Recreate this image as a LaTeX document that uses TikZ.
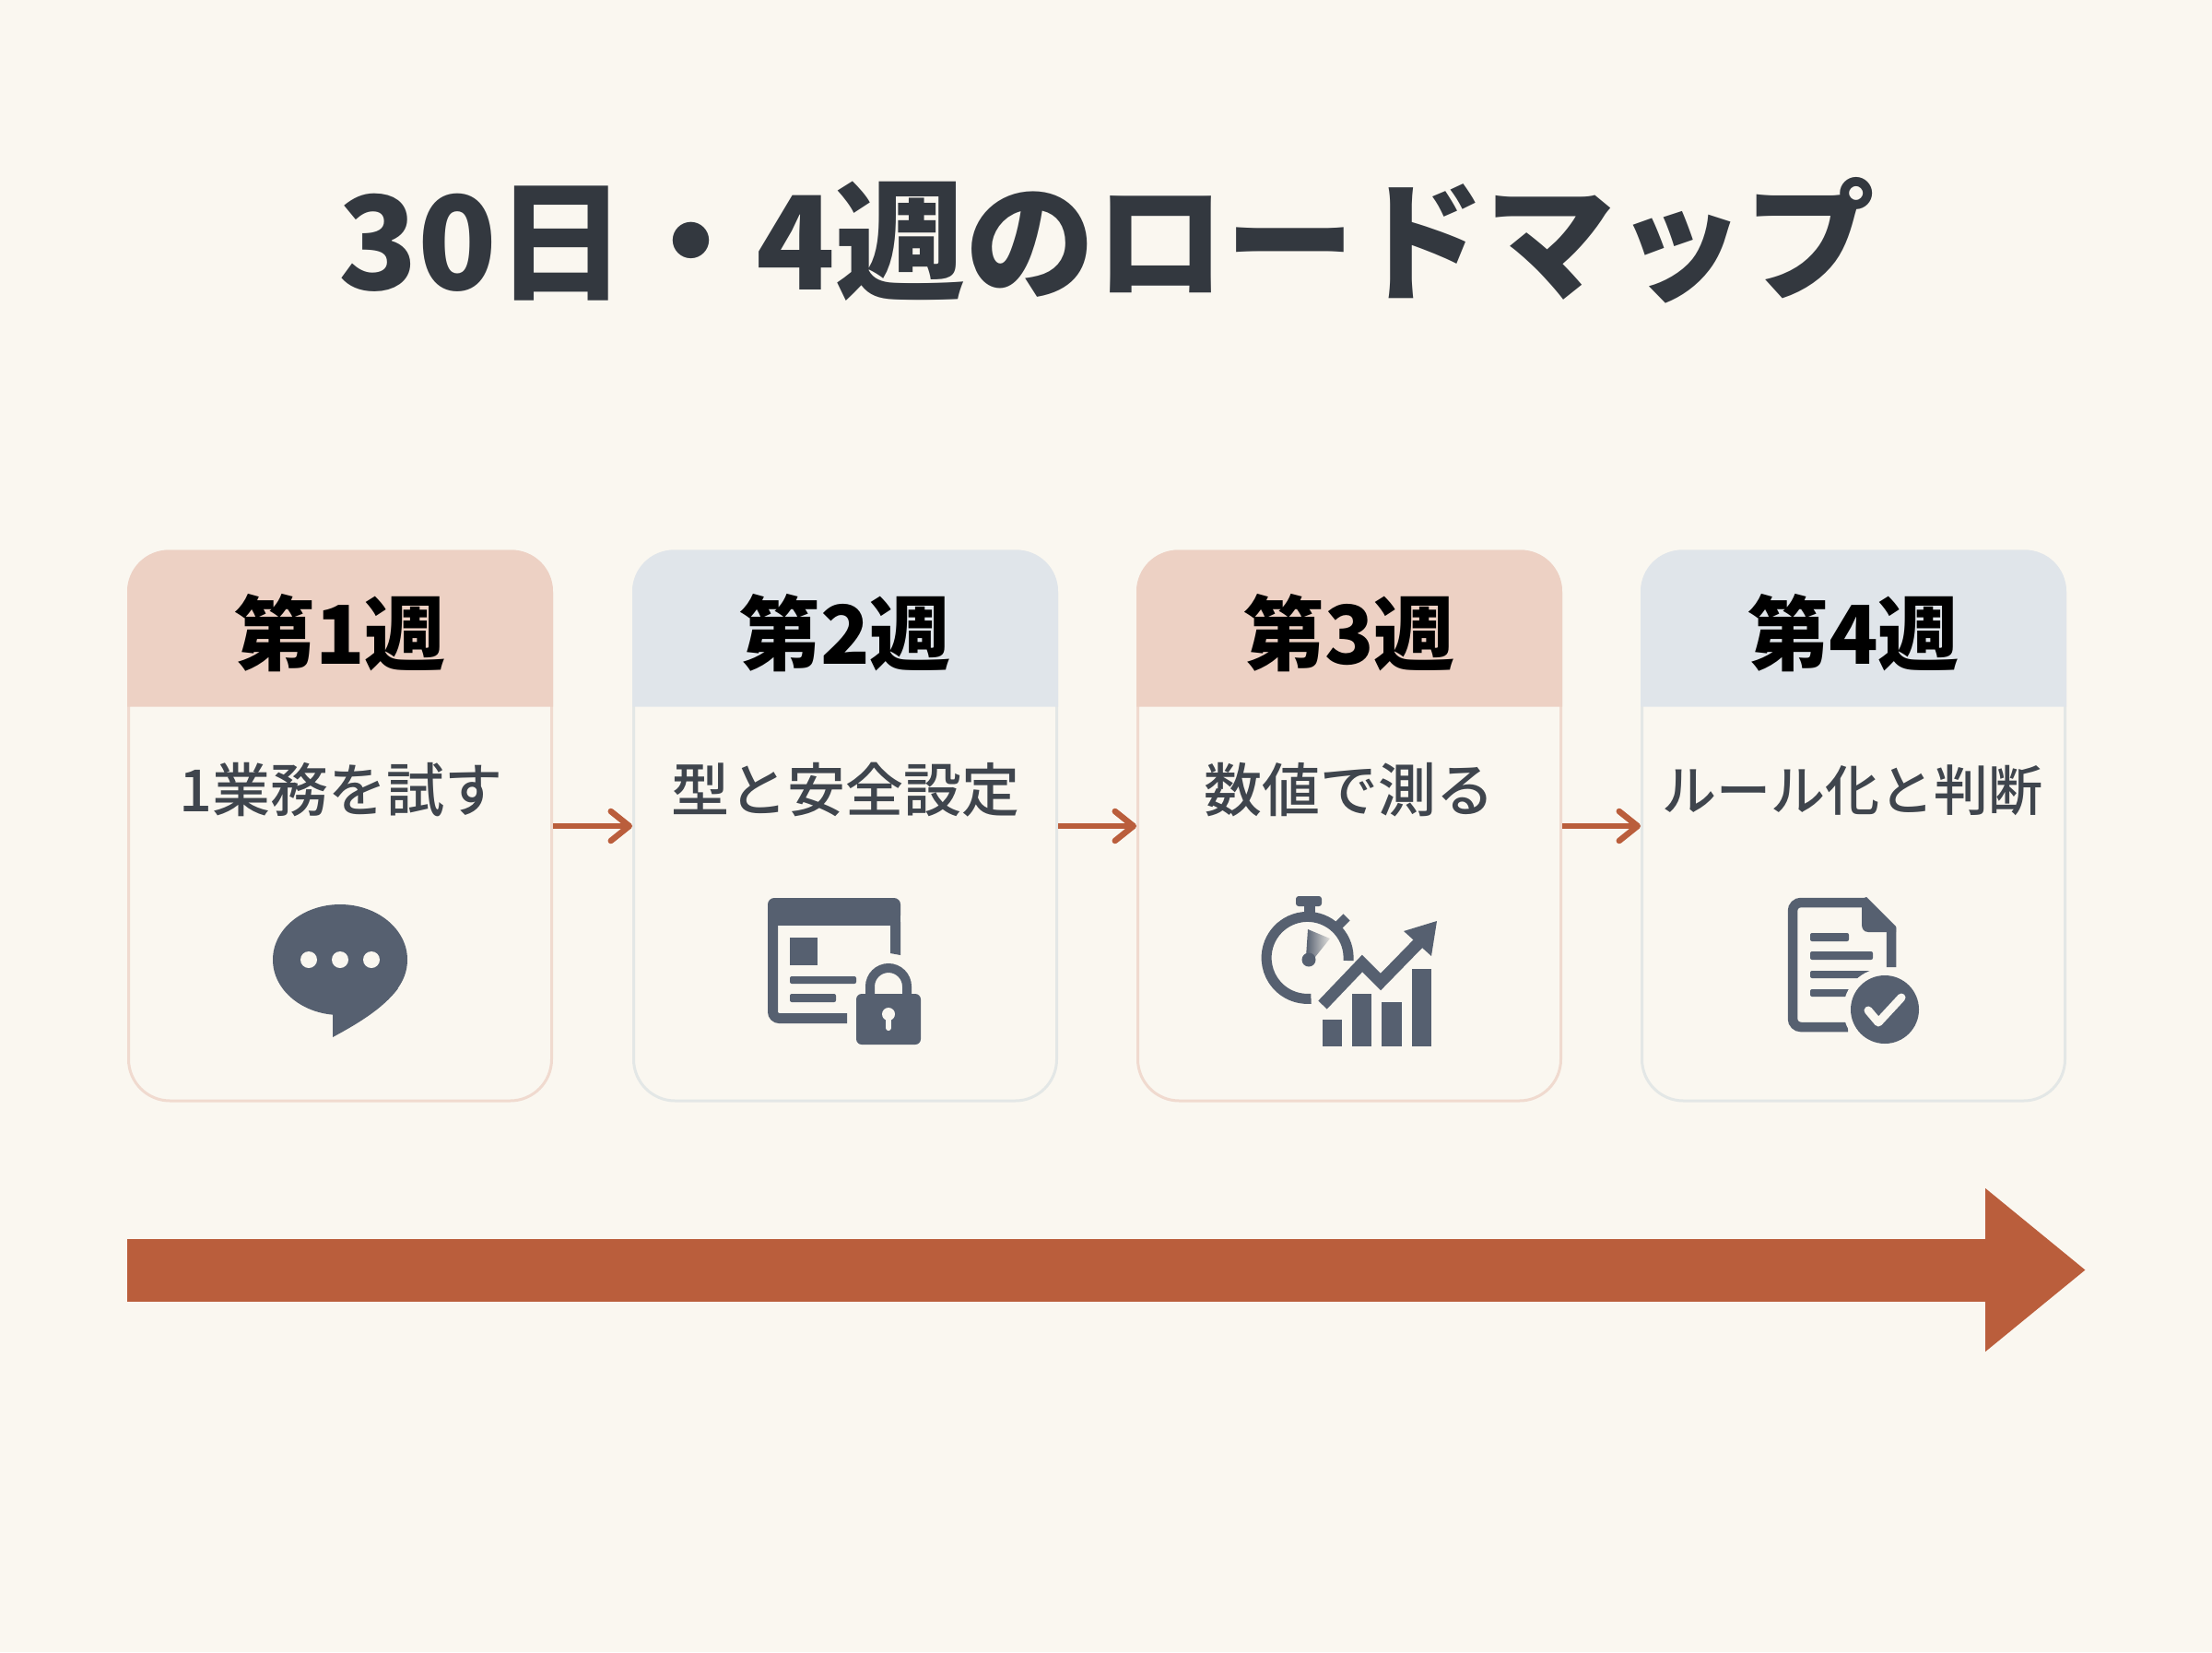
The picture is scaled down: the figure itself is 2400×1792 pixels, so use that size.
\documentclass[tikz,border=0pt]{standalone}
\usepackage{fontspec}
\setmainfont{Noto Sans CJK JP}
\newfontfamily\midfont{Noto Sans CJK JP Medium}
\usetikzlibrary{arrows.meta}
\definecolor{paper}{HTML}{FAF7F0}
\definecolor{peachhead}{HTML}{EDD1C4}
\definecolor{bluehead}{HTML}{E0E5EA}
\definecolor{peachline}{HTML}{F0DACF}
\definecolor{blueline}{HTML}{E3E7E6}
\definecolor{rust}{HTML}{BA5E3C}
\definecolor{ink}{HTML}{33383F}
\definecolor{subink}{HTML}{3F454D}
\definecolor{slate}{HTML}{566070}
\tikzset{
  card/.style={draw=#1,line width=3pt,fill=paper,rounded corners=45pt,minimum width=459pt,minimum height=596pt,inner sep=0pt},
  headtext/.style={text=black,font=\bfseries\fontsize{88}{88}\selectfont,inner sep=0pt},
  subtext/.style={text=subink,font=\midfont\fontsize{63}{63}\selectfont,inner sep=0pt},
  link/.style={draw=rust,line width=6.5pt,-{Straight Barb[length=20pt,width=32pt,round]}},
  icon/.style={fill=slate},
  iconline/.style={draw=slate,line width=#1pt}
}
\begin{document}
\begin{tikzpicture}[x=1pt,y=-1pt]
	\useasboundingbox[fill=paper] (0,0) rectangle (2400,1792);

	\node[text=ink,font=\bfseries\fontsize{141}{141}\selectfont,inner sep=0pt] (title) at (1201,261) {30日・4週のロードマップ};

	\node[card=peachline] (c1) at (369,896) {};
	\node[card=blueline] (c2) at (917,896) {};
	\node[card=peachline] (c3) at (1464,896) {};
	\node[card=blueline] (c4) at (2011,896) {};

	\fill[peachhead] (138,766.5) [rounded corners=45pt] -- (138,596.5) -- (600,596.5) [sharp corners] -- (600,766.5) -- cycle;
	\fill[bluehead] (686,766.5) [rounded corners=45pt] -- (686,596.5) -- (1148,596.5) [sharp corners] -- (1148,766.5) -- cycle;
	\fill[peachhead] (1233,766.5) [rounded corners=45pt] -- (1233,596.5) -- (1695,596.5) [sharp corners] -- (1695,766.5) -- cycle;
	\fill[bluehead] (1780,766.5) [rounded corners=45pt] -- (1780,596.5) -- (2242,596.5) [sharp corners] -- (2242,766.5) -- cycle;

	\node[headtext] (h1) at (369,687) {第1週};
	\node[headtext] (h2) at (917,687) {第2週};
	\node[headtext] (h3) at (1464,687) {第3週};
	\node[headtext] (h4) at (2011,687) {第4週};

	\node[subtext] (s1) at (370,857) {1業務を試す};
	\node[subtext] (s2) at (917,857) {型と安全設定};
	\node[subtext] (s3) at (1463.5,857) {数値で測る};
	\node[subtext,font=\midfont\fontsize{59}{59}\selectfont] (s4) at (2010,857) {ルール化と判断};

	\draw[link] (c1.east) -- (c2.west);
	\draw[link] (c2.east) -- (c3.west);
	\draw[link] (c3.east) -- (c4.west);

	% chat
	\fill[icon] (369,1041) ellipse [x radius=73,y radius=60];
	\fill[icon] (361,1095) -- (361,1125) .. controls (385,1112) and (415,1095) .. (432,1072) -- cycle;
	\fill[paper] (335,1041) circle [radius=9];
	\fill[paper] (369,1041) circle [radius=9];
	\fill[paper] (403,1041) circle [radius=9];

	% window and lock
	\fill[icon,rounded corners=7pt] (833,974) rectangle (977,1000);
	\fill[icon] (833,985) rectangle (977,1004);
	\fill[icon] (966,1000) -- (977,1000) -- (977,1036) -- (966,1034) -- cycle;
	\draw[iconline=11,rounded corners=7pt] (838.5,1000) -- (838.5,1104.5) -- (919,1104.5);
	\fill[icon] (857,1017) rectangle (887,1047);
	\fill[icon,rounded corners=2pt] (857,1059) rectangle (929,1067);
	\fill[icon,rounded corners=2pt] (857,1078) rectangle (907,1087);
	\fill[icon,rounded corners=6pt] (929,1078) rectangle (999,1133);
	\draw[iconline=10] (944,1082) -- (944,1070) arc [start angle=180,end angle=360,radius=20] -- (984,1082);
	\fill[paper] (964,1100) circle [radius=7];
	\draw[paper,line width=6pt,line cap=round] (964,1100) -- (964,1115);

	% stopwatch and chart
	\draw[iconline=11] (1463,1042) arc [start angle=4,end angle=-275,radius=44.5];
	\fill[icon,rounded corners=3pt] (1406,972) rectangle (1434,983);
	\fill[icon] (1415,983) rectangle (1427,993);
	\draw[iconline=10] (1451,1005) -- (1461,995);
	\shade[left color=slate,middle color=slate!75!paper,right color=slate!15!paper] (1419,1008) -- (1443,1018) -- (1427,1038) -- (1417,1038) -- cycle;
	\fill[icon] (1420,1041) circle [radius=7.5];
	\draw[iconline=13] (1435,1090) -- (1478,1045) -- (1498,1065) -- (1540,1022);
	\fill[icon] (1523,1010) -- (1559,999) -- (1553,1037) -- cycle;
	\fill[icon] (1435,1106) rectangle (1456,1135);
	\fill[icon] (1467,1078) rectangle (1488,1135);
	\fill[icon] (1499,1087) rectangle (1521,1135);
	\fill[icon] (1532,1051) rectangle (1553,1135);

	% document and check
	\draw[iconline=10.5,rounded corners=9pt] (2005,1114) -- (1945,1114) -- (1945,979) -- (2023,979);
	\draw[iconline=10.5] (2023,979) -- (2052,1008) -- (2052,1049);
	\fill[icon] (2020,975) -- (2025,973) -- (2057,1005) -- (2057,1011) -- (2027,1011) .. controls (2022,1011) and (2020,1007) .. (2020,1003) -- cycle;
	\fill[icon,rounded corners=2pt] (1964,1012) rectangle (2006,1021);
	\fill[icon,rounded corners=2pt] (1964,1032) rectangle (2032,1041);
	\fill[icon,rounded corners=2pt] (1964,1053) rectangle (2032,1061);
	\fill[icon,rounded corners=2pt] (1964,1073) rectangle (2012,1081);
	\fill[paper] (2045,1095) circle [radius=45];
	\fill[icon] (2045,1095) circle [radius=37];
	\draw[paper,line width=9pt,line cap=round,line join=round] (2027,1096) -- (2038,1109) -- (2063,1082);

	\coordinate (t0) at (138,1377.5);
	\coordinate (t1) at (2263,1377.5);
	\draw[draw=rust,line width=68pt,-{Triangle[length=109pt,width=170pt,fill=rust]}] (t0) -- (t1);
\end{tikzpicture}
\end{document}
